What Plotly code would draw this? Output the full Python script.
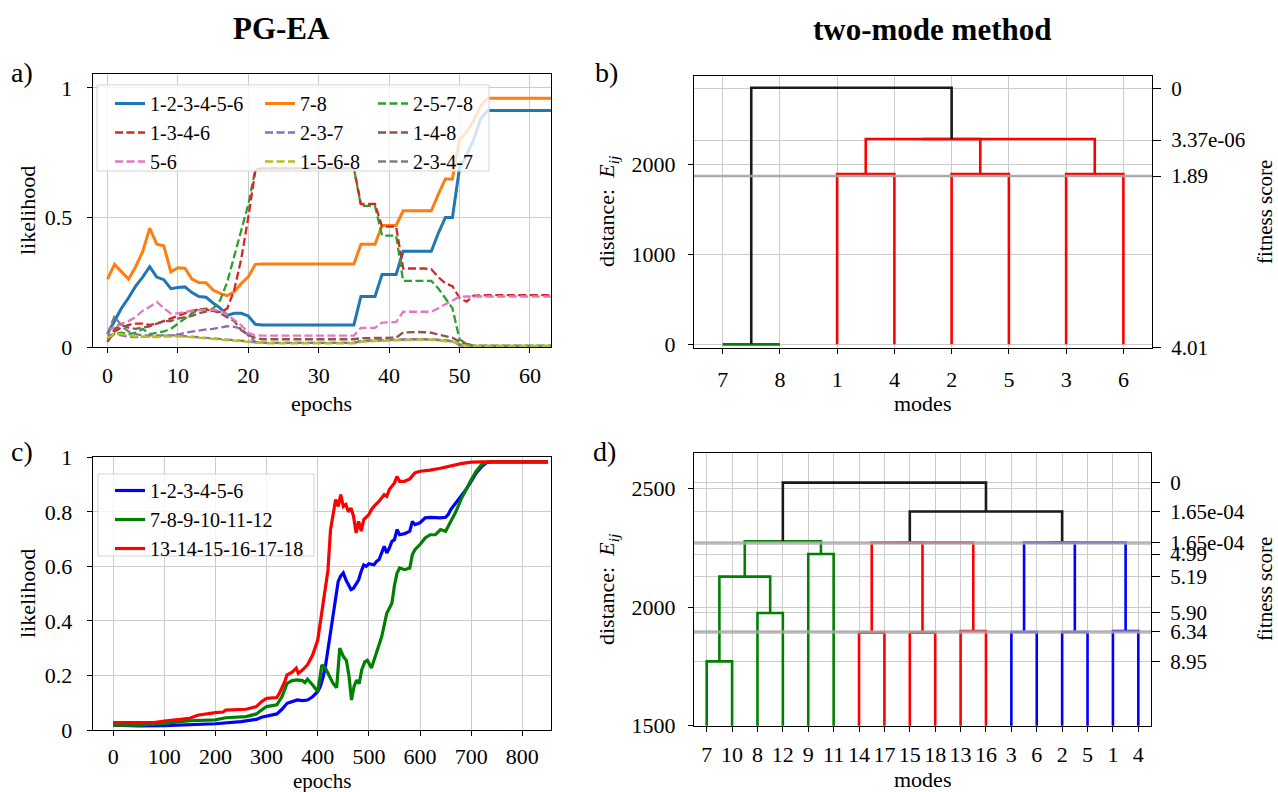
import plotly.graph_objects as go

W, H = 1278, 792
FONT = "Liberation Serif, DejaVu Serif, serif"

# ---------------- panel a data ----------------
epochs_a = list(range(64))
a_123456 = [0.05, 0.10, 0.15, 0.19, 0.235, 0.27, 0.31, 0.27, 0.26, 0.225,
            0.23, 0.232, 0.21, 0.195, 0.192, 0.17, 0.15, 0.122, 0.13, 0.13,
            0.12, 0.088, 0.085, 0.085, 0.085, 0.085, 0.085, 0.085, 0.085, 0.085,
            0.085, 0.085, 0.085, 0.085, 0.085, 0.085, 0.195, 0.195, 0.195, 0.28,
            0.28, 0.28, 0.37, 0.37, 0.37, 0.37, 0.37, 0.44, 0.50, 0.50,
            0.69, 0.74, 0.80, 0.88, 0.913, 0.913, 0.913, 0.913, 0.913, 0.913,
            0.913, 0.913, 0.913, 0.913]
a_78 = [0.262, 0.319, 0.29, 0.262, 0.31, 0.368, 0.459, 0.397, 0.391, 0.29,
        0.306, 0.304, 0.262, 0.249, 0.248, 0.22, 0.207, 0.198, 0.213, 0.245,
        0.271, 0.319, 0.32, 0.32, 0.32, 0.32, 0.32, 0.32, 0.32, 0.32,
        0.32, 0.32, 0.32, 0.32, 0.32, 0.32, 0.397, 0.397, 0.397, 0.469,
        0.469, 0.469, 0.526, 0.526, 0.526, 0.526, 0.526, 0.59, 0.649, 0.649,
        0.80, 0.83, 0.872, 0.93, 0.96, 0.96, 0.96, 0.96, 0.96, 0.96,
        0.96, 0.96, 0.96, 0.96]
a_2578 = [0.03, 0.05, 0.055, 0.05, 0.055, 0.07, 0.05, 0.055, 0.06, 0.07,
          0.09, 0.11, 0.13, 0.145, 0.148, 0.148, 0.18, 0.25, 0.35, 0.45,
          0.55, 0.685, 0.69, 0.69, 0.69, 0.69, 0.69, 0.69, 0.69, 0.69,
          0.69, 0.69, 0.69, 0.69, 0.69, 0.69, 0.545, 0.545, 0.545, 0.43,
          0.43, 0.43, 0.255, 0.255, 0.255, 0.255, 0.255, 0.226, 0.19, 0.15,
          0.03, 0.012, 0.005, 0.005, 0.005, 0.005, 0.005, 0.005, 0.005, 0.005,
          0.005, 0.005, 0.005, 0.005]
a_1346 = [0.02, 0.06, 0.075, 0.085, 0.09, 0.09, 0.085, 0.09, 0.10, 0.11,
          0.12, 0.13, 0.14, 0.145, 0.145, 0.14, 0.135, 0.148, 0.22, 0.34,
          0.50, 0.68, 0.69, 0.69, 0.69, 0.69, 0.69, 0.69, 0.69, 0.69,
          0.69, 0.69, 0.69, 0.69, 0.69, 0.69, 0.552, 0.552, 0.552, 0.465,
          0.465, 0.465, 0.303, 0.303, 0.303, 0.303, 0.30, 0.27, 0.245, 0.235,
          0.19, 0.175, 0.198, 0.20, 0.20, 0.20, 0.20, 0.20, 0.20, 0.20,
          0.20, 0.20, 0.20, 0.20]
a_237 = [0.045, 0.05, 0.045, 0.04, 0.038, 0.04, 0.04, 0.04, 0.043, 0.045,
         0.048, 0.055, 0.06, 0.065, 0.068, 0.07, 0.074, 0.08, 0.078, 0.071,
         0.045, 0.02, 0.016, 0.016, 0.016, 0.016, 0.016, 0.016, 0.016, 0.016,
         0.016, 0.016, 0.016, 0.016, 0.016, 0.016, 0.024, 0.025, 0.026, 0.027,
         0.028, 0.029, 0.03, 0.03, 0.03, 0.03, 0.029, 0.027, 0.025, 0.022,
         0.006, 0.003, 0.002, 0.002, 0.002, 0.002, 0.002, 0.002, 0.002, 0.002,
         0.002, 0.002, 0.002, 0.002]
a_148 = [0.02, 0.07, 0.085, 0.075, 0.07, 0.075, 0.08, 0.09, 0.10, 0.10,
         0.11, 0.115, 0.12, 0.13, 0.137, 0.14, 0.13, 0.115, 0.10, 0.065,
         0.045, 0.035, 0.03, 0.03, 0.03, 0.03, 0.03, 0.03, 0.03, 0.03,
         0.03, 0.03, 0.03, 0.03, 0.03, 0.03, 0.034, 0.034, 0.034, 0.034,
         0.034, 0.036, 0.056, 0.058, 0.058, 0.057, 0.055, 0.048, 0.042, 0.036,
         0.02, 0.012, 0.004, 0.004, 0.004, 0.004, 0.004, 0.004, 0.004, 0.004,
         0.004, 0.004, 0.004, 0.004]
a_56 = [0.06, 0.08, 0.09, 0.10, 0.116, 0.14, 0.155, 0.174, 0.15, 0.129,
        0.13, 0.135, 0.14, 0.142, 0.144, 0.144, 0.14, 0.125, 0.105, 0.084,
        0.055, 0.045, 0.044, 0.044, 0.044, 0.044, 0.044, 0.044, 0.044, 0.044,
        0.044, 0.044, 0.044, 0.044, 0.044, 0.044, 0.074, 0.074, 0.074, 0.094,
        0.096, 0.097, 0.136, 0.136, 0.136, 0.136, 0.136, 0.15, 0.164, 0.18,
        0.194, 0.195, 0.195, 0.195, 0.195, 0.195, 0.195, 0.195, 0.195, 0.195,
        0.195, 0.195, 0.195, 0.195]
a_2347 = [0.05, 0.12, 0.08, 0.06, 0.05, 0.045, 0.045, 0.045, 0.045, 0.045,
          0.045, 0.042, 0.04, 0.038, 0.036, 0.034, 0.032, 0.03, 0.028, 0.026,
          0.022, 0.018, 0.016, 0.016, 0.016, 0.016, 0.016, 0.016, 0.016, 0.016,
          0.016, 0.016, 0.016, 0.016, 0.016, 0.016, 0.022, 0.024, 0.025, 0.026,
          0.027, 0.028, 0.03, 0.03, 0.03, 0.03, 0.03, 0.028, 0.026, 0.022,
          0.01, 0.005, 0.003, 0.003, 0.003, 0.003, 0.003, 0.003, 0.003, 0.003,
          0.003, 0.003, 0.003, 0.003]
a_1568 = [0.035, 0.05, 0.05, 0.045, 0.04, 0.04, 0.038, 0.038, 0.04, 0.04,
          0.042, 0.04, 0.038, 0.036, 0.034, 0.032, 0.03, 0.028, 0.026, 0.024,
          0.02, 0.016, 0.014, 0.014, 0.014, 0.014, 0.014, 0.014, 0.014, 0.014,
          0.014, 0.014, 0.014, 0.014, 0.014, 0.014, 0.02, 0.022, 0.023, 0.024,
          0.025, 0.026, 0.028, 0.028, 0.028, 0.028, 0.028, 0.026, 0.024, 0.02,
          0.01, 0.005, 0.003, 0.003, 0.003, 0.003, 0.003, 0.003, 0.003, 0.003,
          0.003, 0.003, 0.003, 0.003]

# ---------------- panel c data ----------------
c_blue_x = [0, 50, 100, 150, 200, 250, 280, 290, 300, 320, 330, 340, 350, 360, 370, 380, 390, 400, 405, 410,
            415, 420, 425, 430, 435, 440, 445, 450, 455, 460, 465, 470, 475, 480, 485, 490, 495, 500, 510, 515,
            520, 525, 530, 535, 540, 545, 550, 555, 560, 570, 580, 585, 590, 600, 610, 620, 640, 650, 655, 660,
            670, 680, 690, 700, 710, 720, 730, 740, 850]
c_blue_y = [0.018, 0.015, 0.016, 0.02, 0.023, 0.031, 0.039, 0.047, 0.051, 0.059, 0.076, 0.098, 0.104, 0.11, 0.108, 0.11, 0.122, 0.141, 0.159, 0.19,
            0.233, 0.294, 0.367, 0.429, 0.49, 0.545, 0.565, 0.576, 0.551, 0.53, 0.515, 0.52, 0.538, 0.551, 0.582, 0.605, 0.60, 0.61, 0.606, 0.618,
            0.625, 0.649, 0.674, 0.649, 0.667, 0.692, 0.698, 0.735, 0.716, 0.72, 0.729, 0.765, 0.753, 0.76, 0.778, 0.78, 0.778, 0.78, 0.79, 0.808,
            0.833, 0.857, 0.882, 0.912, 0.943, 0.965, 0.98, 0.983, 0.983]
c_green_x = [0, 50, 100, 150, 200, 220, 260, 280, 290, 300, 320, 330, 340, 350, 360, 370, 375, 380, 390, 400,
             408, 415, 420, 430, 437, 443, 450, 456, 461, 466, 471, 476, 481, 486, 492, 497, 505, 515, 525, 535,
             545, 550, 555, 560, 570, 580, 585, 590, 600, 610, 620, 630, 640, 650, 660, 670, 680, 690, 700, 710,
             720, 730, 740, 850]
c_green_y = [0.018, 0.018, 0.024, 0.034, 0.037, 0.045, 0.049, 0.059, 0.073, 0.086, 0.092, 0.122, 0.171, 0.181, 0.184, 0.181, 0.174, 0.186, 0.165, 0.141,
             0.238, 0.227, 0.208, 0.171, 0.155, 0.30, 0.27, 0.255, 0.20, 0.11, 0.16, 0.183, 0.17, 0.22, 0.25, 0.256, 0.227, 0.282, 0.342, 0.428,
             0.465, 0.53, 0.575, 0.594, 0.588, 0.594, 0.643, 0.661, 0.68, 0.704, 0.716, 0.716, 0.735, 0.729, 0.765, 0.80, 0.845, 0.882, 0.918, 0.949,
             0.973, 0.982, 0.983, 0.983]
c_red_x = [0, 50, 80, 100, 130, 150, 165, 180, 200, 215, 220, 260, 280, 290, 300, 320, 325, 335, 340, 350,
           358, 362, 370, 380, 390, 400, 405, 410, 415, 420, 425, 430, 435, 440, 445, 450, 455, 460, 465, 470,
           475, 480, 485, 490, 500, 505, 510, 520, 530, 535, 540, 550, 555, 560, 570, 580, 590, 600, 620, 640,
           660, 680, 700, 720, 850]
c_red_y = [0.027, 0.027, 0.027, 0.033, 0.039, 0.043, 0.054, 0.059, 0.064, 0.066, 0.073, 0.076, 0.086, 0.104, 0.116, 0.119, 0.135, 0.175, 0.202, 0.212,
           0.227, 0.208, 0.22, 0.239, 0.275, 0.33, 0.39, 0.45, 0.52, 0.586, 0.735, 0.80, 0.845, 0.82, 0.863, 0.82, 0.827, 0.80, 0.814, 0.784,
           0.723, 0.765, 0.729, 0.772, 0.79, 0.808, 0.82, 0.839, 0.863, 0.857, 0.882, 0.906, 0.93, 0.912, 0.912, 0.921, 0.943, 0.949, 0.953, 0.96,
           0.968, 0.977, 0.982, 0.983, 0.983]

# ---------------- panel b dendrogram ----------------
b_leaf_pos = [5, 15, 25, 35, 45, 55, 65, 75]
b_leaf_labels = ["7", "8", "1", "4", "2", "5", "3", "6"]
b_link_x = [[5, 5, 15, 15], [25, 25, 35, 35], [45, 45, 55, 55], [65, 65, 75, 75],
            [30, 30, 50, 50], [40, 40, 70, 70], [10, 10, 45, 45]]
b_link_y = [[0, 0, 0, 0], [0, 1893, 1893, 0], [0, 1893, 1893, 0], [0, 1893, 1893, 0],
            [1893, 2281, 2281, 1893], [2281, 2281, 2281, 1893], [0, 2851, 2851, 2281]]
b_link_c = ["green", "red", "red", "red", "red", "red", "black"]
b_right_vals = [2844, 2270, 1870, -40]
b_right_text = ["0", "3.37e-06", "1.89", "4.01"]
b_thresh = [1870]

# ---------------- panel d dendrogram ----------------
d_leaf_pos = [5, 15, 25, 35, 45, 55, 65, 75, 85, 95, 105, 115, 125, 135, 145, 155, 165, 175]
d_leaf_labels = ["7", "10", "8", "12", "9", "11", "14", "17", "15", "18", "13", "16",
                 "3", "6", "2", "5", "1", "4"]
d_link_x = [[5, 5, 15, 15], [25, 25, 35, 35], [10, 10, 30, 30], [45, 45, 55, 55], [20, 20, 50, 50],
            [65, 65, 75, 75], [85, 85, 95, 95], [105, 105, 115, 115], [70, 70, 90, 90], [80, 80, 110, 110],
            [125, 125, 135, 135], [145, 145, 155, 155], [165, 165, 175, 175], [130, 130, 150, 150], [140, 140, 170, 170],
            [85, 85, 145, 145], [35, 35, 115, 115]]
d_link_y = [[0, 1771, 1771, 0], [0, 1975, 1975, 0], [1771, 2128, 2128, 1975], [0, 2223, 2223, 0], [2128, 2277, 2277, 2223],
            [0, 1892, 1892, 0], [0, 1892, 1892, 0], [0, 1899, 1899, 0], [1892, 2272, 2272, 1892], [2272, 2272, 2272, 1899],
            [0, 1895, 1895, 0], [0, 1895, 1895, 0], [0, 1899, 1899, 0], [1895, 2272, 2272, 1895], [2272, 2272, 2272, 1899],
            [2272, 2402, 2402, 2272], [2277, 2524, 2524, 2402]]
d_link_c = ["green"] * 5 + ["red"] * 5 + ["blue"] * 5 + ["black"] * 2
d_right_vals = [2524, 2402, 2270, 2223, 2128, 1975, 1895, 1771]
d_right_text = ["0", "1.65e-04", "1.65e-04", "4.99", "5.19", "5.90", "6.34", "8.95"]
d_thresh = [2270, 1895]

# ---------------- ranges ----------------
a_xr, a_yr = [-2.1, 63], [0, 1.054]
c_xr, c_yr = [-40, 855.5], [0, 1.0]
b_xr, b_yr = [0, 80], [-44, 2981]
d_xr, d_yr = [0, 180], [1500, 2650]

COL = {"green": "#008000", "red": "#ff0000", "blue": "#0000ff", "black": "#1a1a1a"}


def dx(l, r):
    return [l / W, r / W]


def dy(t, b):
    return [1 - b / H, 1 - t / H]


fig = go.Figure()

# panel a traces
a_series = [
    ("1-2-3-4-5-6", a_123456, "#1f77b4", "solid", 3, "legend"),
    ("7-8", a_78, "#ff7f0e", "solid", 3, "legend2"),
    ("2-5-7-8", a_2578, "#2ca02c", "dash", 2.3, "legend3"),
    ("1-3-4-6", a_1346, "#d62728", "dash", 2.3, "legend"),
    ("2-3-7", a_237, "#9467bd", "dash", 2.3, "legend2"),
    ("1-4-8", a_148, "#8c564b", "dash", 2.3, "legend3"),
    ("5-6", a_56, "#e377c2", "dash", 2.3, "legend"),
    ("2-3-4-7", a_2347, "#7f7f7f", "dash", 2.3, "legend3"),
    ("1-5-6-8", a_1568, "#bcbd22", "dash", 2.3, "legend2"),
]
for name, ys, col, dash, w, leg in a_series:
    fig.add_trace(go.Scatter(x=epochs_a, y=ys, name=name, mode="lines",
                             line=dict(color=col, width=w, dash=("8px,3.5px" if dash == "dash" else "solid")),
                             xaxis="x", yaxis="y", legend=leg))

# panel c traces
for name, xs, ys, col in [("1-2-3-4-5-6", c_blue_x, c_blue_y, "#0000ff"),
                          ("7-8-9-10-11-12", c_green_x, c_green_y, "#008000"),
                          ("13-14-15-16-17-18", c_red_x, c_red_y, "#ff0000")]:
    fig.add_trace(go.Scatter(x=xs, y=ys, name=name, mode="lines",
                             line=dict(color=col, width=3.2),
                             xaxis="x3", yaxis="y3", legend="legend4"))


def add_dendro(link_x, link_y, link_c, xa, ya):
    for cname in ["green", "red", "blue", "black"]:
        xs, ys = [], []
        for lx, ly, c in zip(link_x, link_y, link_c):
            if c == cname:
                xs += lx + [None]
                ys += ly + [None]
        if xs:
            fig.add_trace(go.Scatter(x=xs, y=ys, mode="lines", showlegend=False,
                                     line=dict(color=COL[cname], width=2.6),
                                     xaxis=xa, yaxis=ya, hoverinfo="skip"))


add_dendro(b_link_x, b_link_y, b_link_c, "x2", "y2")
add_dendro(d_link_x, d_link_y, d_link_c, "x4", "y4")

# threshold lines on the right axes
for v in b_thresh:
    fig.add_trace(go.Scatter(x=b_xr, y=[v, v], mode="lines", showlegend=False,
                             line=dict(color="rgba(165,165,165,0.9)", width=2.5),
                             xaxis="x2", yaxis="y5", hoverinfo="skip"))
for v in d_thresh:
    fig.add_trace(go.Scatter(x=d_xr, y=[v, v], mode="lines", showlegend=False,
                             line=dict(color="rgba(170,170,170,0.8)", width=3.5),
                             xaxis="x4", yaxis="y6", hoverinfo="skip"))

tickfont = dict(family=FONT, size=22, color="black")
rtickfont = dict(family=FONT, size=21, color="black")
base = dict(showline=True, linecolor="black", linewidth=1, mirror=True,
            ticks="outside", ticklen=5, tickcolor="black", tickwidth=1,
            showgrid=True, gridcolor="#cccccc", gridwidth=1, zeroline=False,
            tickfont=tickfont)

A = dict(x=dx(92.7, 551), y=dy(74, 347))
B = dict(x=dx(694, 1152), y=dy(76, 348.3))
C = dict(x=dx(92.7, 550.7), y=dy(457.3, 730))
D = dict(x=dx(694, 1151), y=dy(452.7, 725.7))

layout = dict(
    width=W, height=H, margin=dict(l=0, r=0, t=0, b=0, pad=0, autoexpand=False),
    paper_bgcolor="white", plot_bgcolor="white",
    font=dict(family=FONT, size=20, color="black"),
    xaxis=dict(base, domain=A["x"], anchor="y", range=a_xr,
               tickvals=[0, 10, 20, 30, 40, 50, 60], ticklabelstandoff=4),
    yaxis=dict(base, domain=A["y"], anchor="x", range=a_yr,
               tickvals=[0, 0.5, 1], ticktext=["0", "0.5", "1"], ticklabelstandoff=10),
    xaxis2=dict(base, domain=B["x"], anchor="y2", range=b_xr,
                tickvals=b_leaf_pos, ticktext=b_leaf_labels, ticklabelstandoff=6),
    yaxis2=dict(base, domain=B["y"], anchor="x2", range=b_yr,
                tickvals=[0, 1000, 2000], ticklabelstandoff=8),
    yaxis5=dict(overlaying="y2", side="right", anchor="x2", range=b_yr,
                tickvals=b_right_vals, ticktext=b_right_text, showline=False,
                ticks="outside", ticklen=8, tickcolor="black", showgrid=True,
                gridcolor="#cccccc", zeroline=False, tickfont=rtickfont, ticklabelstandoff=6),
    xaxis3=dict(base, domain=C["x"], anchor="y3", range=c_xr,
                tickvals=[0, 100, 200, 300, 400, 500, 600, 700, 800], ticklabelstandoff=2),
    yaxis3=dict(base, domain=C["y"], anchor="x3", range=c_yr,
                tickvals=[0, 0.2, 0.4, 0.6, 0.8, 1], ticktext=["0", "0.2", "0.4", "0.6", "0.8", "1"],
                ticklabelstandoff=10),
    xaxis4=dict(base, domain=D["x"], anchor="y4", range=d_xr,
                tickvals=d_leaf_pos, ticktext=d_leaf_labels, ticklabelstandoff=4),
    yaxis4=dict(base, domain=D["y"], anchor="x4", range=d_yr,
                tickvals=[1500, 2000, 2500], ticklabelstandoff=8),
    yaxis6=dict(overlaying="y4", side="right", anchor="x4", range=d_yr,
                tickvals=d_right_vals, ticktext=d_right_text, showline=False,
                ticks="outside", ticklen=8, tickcolor="black", showgrid=True,
                gridcolor="#cccccc", zeroline=False, tickfont=rtickfont, ticklabelstandoff=6),
)

leg_common = dict(bgcolor="rgba(0,0,0,0)", borderwidth=0, orientation="v",
                  font=dict(family=FONT, size=20, color="black"),
                  xanchor="left", yanchor="top", tracegroupgap=0, itemwidth=30)
layout["legend"] = dict(leg_common, x=110 / W, y=1 - 84 / H)
layout["legend2"] = dict(leg_common, x=260 / W, y=1 - 84 / H)
layout["legend3"] = dict(leg_common, x=373 / W, y=1 - 84 / H)
layout["legend4"] = dict(leg_common, x=110 / W, y=1 - 471 / H)

layout["shapes"] = [
    dict(type="rect", xref="paper", yref="paper", x0=97 / W, x1=489 / W, y0=1 - 171 / H, y1=1 - 85 / H,
         fillcolor="rgba(255,255,255,0.8)", line=dict(color="#d4d4d4", width=1), layer="above"),
    dict(type="rect", xref="paper", yref="paper", x0=98 / W, x1=314 / W, y0=1 - 556 / H, y1=1 - 474 / H,
         fillcolor="rgba(255,255,255,0.8)", line=dict(color="#d4d4d4", width=1), layer="above"),
]


def ann(text, x, y, size=22, angle=0):
    return dict(text=text, x=x / W, y=1 - y / H, xref="paper", yref="paper", showarrow=False,
                font=dict(family=FONT, size=size, color="black"), textangle=angle,
                xanchor="center", yanchor="middle")


layout["annotations"] = [
    ann("<b>PG-EA</b>", 281, 28, 31),
    ann("<b>two-mode method</b>", 932, 30, 31),
    ann("a)", 22, 73, 28), ann("b)", 606, 73, 28),
    ann("c)", 22, 451, 28), ann("d)", 604, 451, 28),
    ann("likelihood", 27, 211, 22, -90), ann("likelihood", 27, 594, 22, -90),
    ann("epochs", 322, 403), ann("epochs", 322, 781, 21),
    ann("modes", 922, 404), ann("modes", 922, 779),
    ann("distance:  <i>E</i><sub><i>ij</i></sub>", 608, 212, 22, -90),
    ann("distance:  <i>E</i><sub><i>ij</i></sub>", 608, 590, 22, -90),
    ann("fitness score", 1265, 212, 21, -90),
    ann("fitness score", 1265, 589, 21, -90),
]

fig.update_layout(layout)
fig.write_html("out.html")
